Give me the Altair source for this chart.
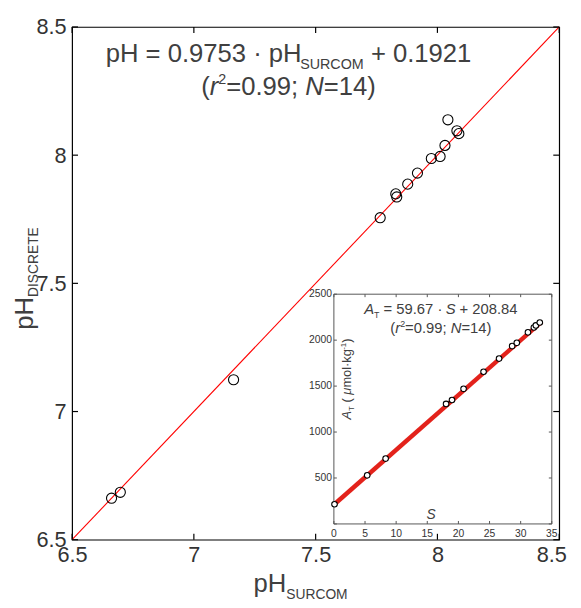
import altair as alt
import pandas as pd

# ---------------- data ----------------
ph_surcom = [6.662, 6.698, 7.163, 7.765, 7.829, 7.833, 7.878, 7.918, 7.975, 8.011, 8.031, 8.043, 8.080, 8.088]
ph_discrete = [6.662, 6.685, 7.124, 7.756, 7.849, 7.837, 7.887, 7.930, 7.987, 7.995, 8.038, 8.138, 8.095, 8.084]
salinity = [0.1, 5.35, 8.31, 18.02, 18.97, 20.83, 24.04, 26.53, 28.63, 29.38, 31.17, 32.12, 32.44, 33.07]
alkalinity = [214, 529, 711, 1306, 1349, 1470, 1656, 1799, 1935, 1971, 2085, 2138, 2160, 2192]
ref_line = [6.5, 8.5]           # 1:1 line
fit_s = [0.0, 33.4]             # inset fit line ends
fit_a = [209, 2202]
main_ticks = [6.5, 7, 7.5, 8, 8.5]
inset_xticks = [0, 5, 10, 15, 20, 25, 30, 35]
inset_yticks = [0, 500, 1000, 1500, 2000, 2500]

# ---------------- layout ----------------
W, H = 494, 520
IL, IR, IT, IB = 265.5, 486.5, 271, 504
FONT = "Liberation Sans"
TXT = "#404040"

xs = alt.Scale(domain=[6.5, 8.5], nice=False, zero=False)
ys = alt.Scale(domain=[6.5, 8.5], nice=False, zero=False)
sx = alt.Scale(domain=[0, 35], range=[IL, IR], nice=False, zero=False)
sy = alt.Scale(domain=[0, 2500], range=[IB, IT], nice=False, zero=False)

xaxis = alt.Axis(values=main_ticks, format="~g", ticks=False, domain=False, grid=False, title=None,
                 labelFont=FONT, labelFontSize=22, labelColor="#333333", labelPadding=5,
                 labelFlush=False, labelOverlap=False,
                 labelOffset={"expr": "datum.value == 8.5 ? -8 : 0"})
yaxis = alt.Axis(values=main_ticks, format="~g", ticks=False, domain=False, grid=False, title=None,
                 labelFont=FONT, labelFontSize=22, labelColor="#333333", labelPadding=6,
                 labelFlush=False, labelOverlap=False)

df_main = pd.DataFrame({"x": ph_surcom, "y": ph_discrete})
df_ref = pd.DataFrame({"v": ref_line})
df_mt = pd.DataFrame({"t": main_ticks})

X = lambda f: alt.X(f, scale=xs, axis=xaxis)
Y = lambda f: alt.Y(f, scale=ys, axis=yaxis)

main_layers = [
    alt.Chart(df_ref).mark_line(color="#ff0000", strokeWidth=1.1).encode(x=X("v:Q"), y=Y("v:Q")),
    alt.Chart(df_main).mark_point(shape="circle", filled=False, color="black", size=105, strokeWidth=1.1, opacity=1)
        .encode(x=X("x:Q"), y=Y("y:Q")),
    alt.Chart(df_mt).mark_rule(color="black", strokeWidth=1.2).encode(x=X("t:Q"), y=alt.value(H), y2=alt.value(H - 6)),
    alt.Chart(df_mt).mark_rule(color="black", strokeWidth=1.2).encode(x=X("t:Q"), y=alt.value(0), y2=alt.value(6)),
    alt.Chart(df_mt).mark_rule(color="black", strokeWidth=1.2).encode(y=Y("t:Q"), x=alt.value(0), x2=alt.value(6)),
    alt.Chart(df_mt).mark_rule(color="black", strokeWidth=1.2).encode(y=Y("t:Q"), x=alt.value(W), x2=alt.value(W - 6)),
]

# ---------------- inset ----------------
SX = lambda f: alt.X(f, scale=sx, axis=None)
SY = lambda f: alt.Y(f, scale=sy, axis=None)
df_frame = pd.DataFrame({"s0": [0], "s1": [35], "a0": [0], "a1": [2500]})
df_in = pd.DataFrame({"s": salinity, "a": alkalinity})
df_fit = pd.DataFrame({"s": fit_s, "a": fit_a})
df_ixt = pd.DataFrame({"s": inset_xticks, "lab": [str(v) for v in inset_xticks]})
df_iyt = pd.DataFrame({"a": inset_yticks, "lab": [str(v) for v in inset_yticks]})
df_iyl = df_iyt[df_iyt["a"] > 0]
GR = "#555555"

inset_layers = [
    alt.Chart(df_frame).mark_rect(fill="white", stroke=GR, strokeWidth=1)
        .encode(x=SX("s0:Q"), x2="s1:Q", y=SY("a0:Q"), y2="a1:Q"),
    alt.Chart(df_ixt).mark_rule(color=GR, strokeWidth=1).encode(x=SX("s:Q"), y=alt.value(IB), y2=alt.value(IB - 3)),
    alt.Chart(df_ixt).mark_rule(color=GR, strokeWidth=1).encode(x=SX("s:Q"), y=alt.value(IT), y2=alt.value(IT + 3)),
    alt.Chart(df_iyt).mark_rule(color=GR, strokeWidth=1).encode(y=SY("a:Q"), x=alt.value(IL), x2=alt.value(IL + 3)),
    alt.Chart(df_iyt).mark_rule(color=GR, strokeWidth=1).encode(y=SY("a:Q"), x=alt.value(IR), x2=alt.value(IR - 3)),
    alt.Chart(df_fit).mark_line(color="#e3221b", strokeWidth=4.5).encode(x=SX("s:Q"), y=SY("a:Q")),
    alt.Chart(df_in).mark_point(shape="circle", filled=True, fill="white", stroke="black", size=32,
                                 strokeWidth=1.1, opacity=1).encode(x=SX("s:Q"), y=SY("a:Q")),
    alt.Chart(df_ixt).mark_text(font=FONT, fontSize=10.5, color="#333333", baseline="top", align="center")
        .encode(x=SX("s:Q"), y=alt.value(IB + 5), text="lab:N"),
    alt.Chart(df_iyl).mark_text(font=FONT, fontSize=10.5, color="#333333", baseline="middle", align="right")
        .encode(y=SY("a:Q"), x=alt.value(IL - 2), text="lab:N"),
]

# ---------------- rich text annotations ----------------
HW = {' ': 278, '(': 333, ')': 333, '+': 584, '.': 278, ';': 278, '=': 584, '-': 333, '·': 278,
      'A': 667, 'C': 722, 'D': 722, 'E': 667, 'H': 722, 'I': 278, 'M': 833, 'N': 722, 'O': 778,
      'R': 722, 'S': 667, 'T': 611, 'U': 722, 'g': 556, 'k': 500, 'l': 222, 'm': 833, 'o': 556,
      'p': 556, 'r': 333, 'μ': 556}


def tw(s, size):
    return sum(HW.get(c, 556) for c in s) * size / 1000.0


pieces = []


def add(t, sz, it, px, py, ang):
    lead = len(t) - len(t.lstrip(" "))
    off = tw(" " * lead, sz)
    s = t.strip(" ")
    if ang == 0:
        pieces.append({"text": s, "x": px + off, "y": py, "size": sz, "it": it, "angle": 0})
    else:
        pieces.append({"text": s, "x": px, "y": py - off, "size": sz, "it": it, "angle": 270})


def hline(parts, cx, base, left=False):
    total = sum(tw(t, sz) for t, sz, it, sh in parts)
    x = cx if left else cx - total / 2
    for t, sz, it, sh in parts:
        add(t, sz, it, x, base + sh, 0)
        x += tw(t, sz)


def vline(parts, cy, base):
    total = sum(tw(t, sz) for t, sz, it, sh in parts)
    y = cy + total / 2
    for t, sz, it, sh in parts:
        add(t, sz, it, base + sh, y, 270)
        y -= tw(t, sz)


# main equation
hline([("pH = 0.9753 · pH", 26, False, 0), ("SURCOM", 14.5, False, 7), (" + 0.1921", 26, False, 0)], 219.5, 36)
hline([("(", 26, False, 0), ("r", 26, True, 0), ("2", 14.5, False, -11), ("=0.99; ", 26, False, 0),
       ("N", 26, True, 0), ("=14)", 26, False, 0)], 219.5, 69)
# inset equation
hline([("A", 15, True, 0), ("T", 9, False, 4), (" = 59.67 · ", 15, False, 0), ("S", 15, True, 0),
       (" + 208.84", 15, False, 0)], 374, 291)
hline([("(", 15, False, 0), ("r", 15, True, 0), ("2", 9, False, -6), ("=0.99; ", 15, False, 0),
       ("N", 15, True, 0), ("=14)", 15, False, 0)], 374, 310)
# inset axis titles (inside the inset)
hline([("S", 14, True, 0)], 364, 499)
vline([("A", 13, True, 0), ("T", 8, False, 3), (" ( ", 13, False, 0), ("μ", 13, True, 0),
       ("mol·kg", 13, False, 0), ("-1", 8, False, -5), (")", 13, False, 0)], 357, 283)
# main axis titles
hline([("pH", 26, False, 0), ("SURCOM", 14, False, 7)], 184, 573, left=True)
vline([("pH", 26, False, 0), ("DISCRETE", 14, False, 5)], 255, -40)

df_txt = pd.DataFrame(pieces)


def text_layer(italic):
    d = df_txt[df_txt["it"] == italic]
    return alt.Chart(d).mark_text(align="left", baseline="alphabetic", font=FONT,
                                  fontStyle="italic" if italic else "normal", color=TXT).encode(
        x=alt.X("x:Q", scale=None, axis=None),
        y=alt.Y("y:Q", scale=None, axis=None),
        size=alt.Size("size:Q", scale=None, legend=None),
        angle=alt.Angle("angle:Q", scale=None, legend=None),
        text="text:N",
    )


chart = alt.layer(
    alt.layer(*main_layers),
    alt.layer(*inset_layers),
    text_layer(False),
    text_layer(True),
).resolve_scale(x="independent", y="independent").properties(
    width=W, height=H,
    padding={"left": 65, "top": 15, "right": 14, "bottom": 65},
    autosize=alt.AutoSizeParams(type="none"),
    background="white",
).configure_view(stroke="black", strokeWidth=1.2)

chart.save("out.html", embed_options={"renderer": "svg", "actions": False})
